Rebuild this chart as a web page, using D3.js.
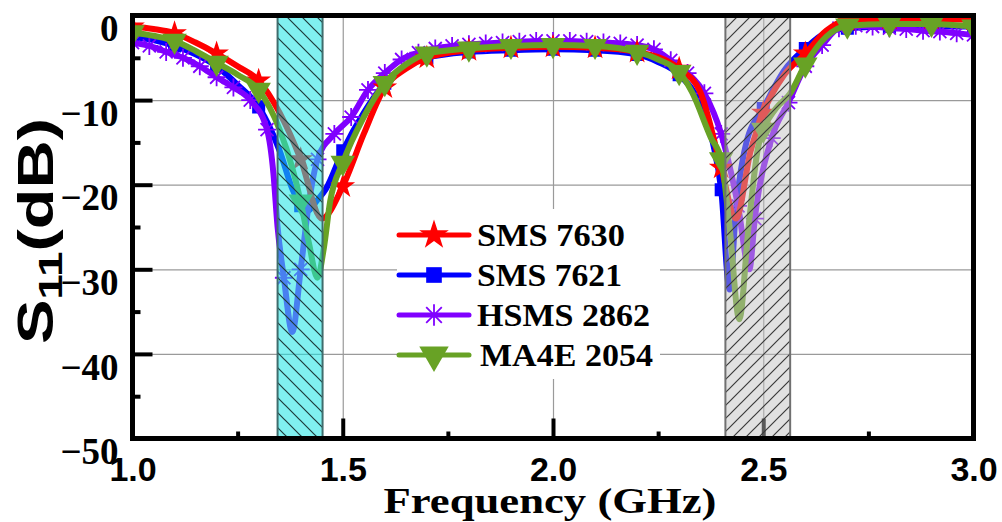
<!DOCTYPE html>
<html>
<head>
<meta charset="utf-8">
<script src="https://cdn.jsdelivr.net/npm/d3@7/dist/d3.min.js"></script>
<style>
  body { margin: 0; background: #fff; }
  .serif { font-family: "Liberation Serif", "Times New Roman", Times, serif; font-weight: bold; }
  .sans { font-family: "Liberation Sans", Arial, Helvetica, sans-serif; font-weight: bold; }
</style>
</head>
<body>
<div id="chart"></div>
<script>
// ---- data ----
const sms7630F = [1.0,1.05,1.1,1.15,1.2,1.25,1.3,1.35,1.4,1.45,1.5,1.55,1.6,1.65,1.7,1.8,1.9,2.0,2.1,2.2,2.3,2.35,2.4,2.435,2.47,2.5,2.55,2.6,2.65,2.7,2.8,2.9,3.0]
const sms7630V = [-1.3,-1.6,-2.1,-3.2,-4.5,-6.0,-7.7,-11.5,-17,-24,-20.2,-14,-8.5,-6.3,-5,-4.1,-3.8,-3.7,-3.8,-4.3,-6.3,-9,-18,-24,-16,-11.5,-7,-4.5,-1.8,-0.6,-0.4,-0.4,-0.5]

const sms7621F = [1.0,1.05,1.1,1.15,1.2,1.25,1.3,1.35,1.38,1.4,1.41,1.44,1.46,1.5,1.55,1.6,1.65,1.7,1.8,1.9,2.0,2.1,2.2,2.25,2.3,2.35,2.38,2.4,2.42,2.435,2.46,2.5,2.55,2.6,2.65,2.7,2.8,2.9,3.0]
const sms7621V = [-2.5,-2.9,-3.6,-4.6,-6.0,-8.2,-10.8,-16,-20.5,-22.5,-23.3,-21.8,-20.5,-16,-11.5,-8,-6,-5,-4.3,-4.1,-4.0,-4.1,-4.6,-5.5,-7.0,-10.5,-15,-20.6,-32.4,-23,-15,-11,-6.5,-3.9,-2,-1.5,-1.3,-1.3,-1.3]

const hsms2862F = [1.00,1.04,1.08,1.12,1.16,1.20,1.24,1.28,1.32,1.335,1.345,1.36,1.38,1.40,1.42,1.44,1.48,1.52,1.56,1.60,1.64,1.68,1.72,1.76,1.80,1.84,1.88,1.92,1.96,2.00,2.04,2.08,2.12,2.16,2.20,2.24,2.28,2.32,2.36,2.40,2.44,2.467,2.48,2.52,2.56,2.60,2.64,2.68,2.72,2.76,2.80,2.84,2.88,2.92,2.96,3.00]
const hsms2862V = [-3.2,-3.6,-4.3,-5.0,-6.0,-7.3,-8.5,-10.0,-13.5,-18.6,-25,-31,-37.4,-30,-22,-17,-14,-12,-8.8,-6.8,-5.2,-4.4,-3.9,-3.6,-3.4,-3.3,-3.2,-3.1,-3.0,-3.0,-3.0,-3.1,-3.2,-3.3,-3.5,-4.0,-5.3,-6.8,-9.2,-14,-22.5,-30,-24,-14.5,-10.3,-6,-3.5,-1.5,-1.2,-1.3,-1.5,-1.6,-1.8,-1.9,-2.1,-2.3]

const ma4e2054F = [1.0,1.05,1.1,1.15,1.2,1.25,1.3,1.35,1.38,1.4,1.42,1.44,1.455,1.47,1.5,1.55,1.6,1.65,1.7,1.8,1.9,2.0,2.1,2.2,2.25,2.3,2.33,2.376,2.4,2.42,2.443,2.465,2.488,2.5,2.53,2.564,2.6,2.65,2.7,2.8,2.9,3.0]
const ma4e2054V = [-2.0,-2.4,-3.0,-4.2,-5.6,-7.0,-8.8,-13.5,-18,-22,-27,-31,-27.5,-22,-17.4,-12,-8,-5.8,-4.5,-3.9,-3.6,-3.5,-3.6,-4.3,-5.2,-6.7,-9,-14.5,-17,-25,-35.9,-25,-15.5,-13.5,-11,-9.2,-5.8,-2.5,-1.2,-1.0,-1.0,-1.3]

const bands = [[1.345, 1.452], [2.41, 2.564]]
const xTicks = [1.0, 1.5, 2.0, 2.5, 3.0]
const xMinor = [1.25, 1.75, 2.25, 2.75]
const yTicks = [0, -10, -20, -30, -40, -50]
const yMinor = [-5, -15, -25, -35, -45]
const legendNames = ["SMS 7630", "SMS 7621", "HSMS 2862", "MA4E 2054"]

// ---- setup ----
const W = 1002, H = 522
const pL = 132.5, pR = 973.5, pT = 15.5, pB = 438.5

const svg = d3.select("#chart").append("svg")
    .attr("width", W)
    .attr("height", H)
    .style("display", "block")
svg.append("rect").attr("width", W).attr("height", H).attr("fill", "#fff")

const x = d3.scaleLinear().domain([1, 3]).range([pL, pR])
const y = d3.scaleLinear().domain([-50, 0]).range([pB, pT])

const defs = svg.append("defs")
defs.append("clipPath").attr("id", "plotclip")
    .append("rect").attr("x", pL).attr("y", pT).attr("width", pR - pL).attr("height", pB - pT)

function hatch(id, size, back) {
    const p = defs.append("pattern").attr("id", id)
        .attr("patternUnits", "userSpaceOnUse")
        .attr("width", size).attr("height", size)
    if (back) {
        p.append("path")
            .attr("d", `M0,0 L${size},${size} M${-size / 2},${size / 2} L${size / 2},${size * 1.5} M${size / 2},${-size / 2} L${size * 1.5},${size / 2}`)
    } else {
        p.append("path")
            .attr("d", `M0,${size} L${size},0 M${-size / 2},${size / 2} L${size / 2},${-size / 2} M${size / 2},${size * 1.5} L${size * 1.5},${size / 2}`)
    }
    p.select("path").attr("stroke", back ? "#1c3a3a" : "#3a3a3a").attr("stroke-width", 1.2)
}
hatch("hatchCyan", 15, true)
hatch("hatchGray", 13, false)

// ---- grid ----
const grid = svg.append("g")
grid.append("g")
    .attr("transform", `translate(0,${pB})`)
    .call(d3.axisBottom(x).tickValues([1.5, 2.0, 2.5]).tickSize(-(pB - pT)).tickFormat(""))
    .call(g => g.select(".domain").remove())
    .call(g => g.selectAll("line").attr("stroke", "#9a9a9a").attr("stroke-width", 1.2))
grid.append("g")
    .attr("transform", `translate(${pL},0)`)
    .call(d3.axisLeft(y).tickValues([-10, -20, -30, -40]).tickSize(-(pR - pL)).tickFormat(""))
    .call(g => g.select(".domain").remove())
    .call(g => g.selectAll("line").attr("stroke", "#9a9a9a").attr("stroke-width", 1.2))

// ---- ticks (inward) ----
function ticks(axis, tr) {
    svg.append("g").attr("transform", tr).call(axis)
        .call(g => g.select(".domain").remove())
        .call(g => g.selectAll("line").attr("stroke", "#000").attr("stroke-width", 4))
}
ticks(d3.axisBottom(x).tickValues([1.5, 2.0, 2.5]).tickSize(-20).tickFormat(""), `translate(0,${pB})`)
ticks(d3.axisBottom(x).tickValues(xMinor).tickSize(-7).tickFormat(""), `translate(0,${pB})`)
ticks(d3.axisLeft(y).tickValues([-10, -20, -30, -40]).tickSize(-20).tickFormat(""), `translate(${pL},0)`)
ticks(d3.axisLeft(y).tickValues(yMinor).tickSize(-8).tickFormat(""), `translate(${pL},0)`)

// ---- series ----
const series = [
    { name: "SMS 7621", f: sms7621F, v: sms7621V, color: "#0000ff", mark: "square", step: 0.1 },
    { name: "HSMS 2862", f: hsms2862F, v: hsms2862V, color: "#8000ff", mark: "asterisk", step: 0.04 },
    { name: "SMS 7630", f: sms7630F, v: sms7630V, color: "#ff0000", mark: "star", step: 0.1 },
    { name: "MA4E 2054", f: ma4e2054F, v: ma4e2054V, color: "#68a225", mark: "triangle", step: 0.1 }
]

function onGrid(f, step) {
    const k = f / step
    return Math.abs(k - Math.round(k)) < 1e-6
}

function drawMarker(g, kind, color, big) {
    const k = big ? 1.2 : 1
    if (kind === "asterisk") {
        const r = 9 * k, d = 6.5 * k
        g.append("path")
            .attr("d", `M0,${-r}V${r}M${-r},0H${r}M${-d},${-d}L${d},${d}M${d},${-d}L${-d},${d}`)
            .attr("stroke", color).attr("stroke-width", 1.8).attr("fill", "none")
    } else if (kind === "star") {
        g.append("path").attr("d", d3.symbol(d3.symbolStar, 190 * k * k)()).attr("fill", color)
    } else if (kind === "square") {
        g.append("path").attr("d", d3.symbol(d3.symbolSquare, 170 * k * k)()).attr("fill", color)
    } else {
        g.append("path").attr("d", d3.symbol(d3.symbolTriangle, 260 * k * k)())
            .attr("transform", "rotate(180)").attr("fill", color)
    }
}

const line = d3.line()
    .x(d => x(d[0]))
    .y(d => y(d[1]))
    .curve(d3.curveMonotoneX)

const plot = svg.append("g").attr("clip-path", "url(#plotclip)")
for (const s of series) {
    const pts = s.f.map((f, i) => [f, s.v[i]])
    plot.append("path")
        .datum(pts)
        .attr("d", line)
        .attr("fill", "none")
        .attr("stroke", s.color)
        .attr("stroke-width", 6)
        .attr("stroke-linejoin", "round")
        .attr("stroke-linecap", "round")
    pts.filter(p => onGrid(p[0], s.step)).forEach(p => {
        const g = plot.append("g").attr("transform", `translate(${x(p[0])},${y(p[1])})`)
        drawMarker(g, s.mark, s.color)
    })
}

// ---- shaded bands on top of the curves ----
const bandStyle = [
    { fill: "rgb(29,228,228)", op: 0.56, pattern: "url(#hatchCyan)", edge: "#3f6d6d" },
    { fill: "rgb(191,191,191)", op: 0.47, pattern: "url(#hatchGray)", edge: "#707070" }
]
bands.forEach((b, i) => {
    const st = bandStyle[i]
    const bx = x(b[0]), bw = x(b[1]) - x(b[0])
    svg.append("rect").attr("x", bx).attr("y", pT).attr("width", bw).attr("height", pB - pT)
        .attr("fill", st.fill).attr("fill-opacity", st.op)
    svg.append("rect").attr("x", bx).attr("y", pT).attr("width", bw).attr("height", pB - pT)
        .attr("fill", st.pattern)
    svg.append("rect").attr("x", bx).attr("y", pT).attr("width", bw).attr("height", pB - pT)
        .attr("fill", "none").attr("stroke", st.edge).attr("stroke-width", 2)
})

// ---- frame ----
svg.append("rect")
    .attr("x", pL).attr("y", pT)
    .attr("width", pR - pL).attr("height", pB - pT)
    .attr("fill", "none").attr("stroke", "#000").attr("stroke-width", 5)

// ---- tick labels ----
svg.append("g")
    .attr("transform", `translate(0,${pB})`)
    .call(d3.axisBottom(x).tickValues(xTicks).tickSize(0).tickPadding(18).tickFormat(d3.format(".1f")))
    .call(g => g.select(".domain").remove())
    .call(g => g.attr("font-family", null).attr("font-size", null))
    .call(g => g.selectAll("text").attr("class", "sans").style("font-size", "34px").attr("fill", "#000"))

svg.append("g")
    .attr("transform", `translate(${pL},0)`)
    .call(d3.axisLeft(y).tickValues(yTicks).tickSize(0).tickPadding(14).tickFormat(d3.format("d")))
    .call(g => g.select(".domain").remove())
    .call(g => g.attr("font-family", null).attr("font-size", null))
    .call(g => g.selectAll("text").attr("class", "serif").attr("dy", "0.68em")
        .style("font-size", "37px").attr("fill", "#000"))

// ---- axis titles ----
svg.append("text")
    .attr("class", "serif")
    .attr("x", (pL + pR) / 2 - 3).attr("y", 513)
    .attr("text-anchor", "middle")
    .style("font-size", "35px")
    .attr("textLength", 333).attr("lengthAdjust", "spacingAndGlyphs")
    .text("Frequency (GHz)")

const yl = svg.append("text")
    .attr("class", "sans")
    .attr("transform", "translate(53,231) rotate(-90)")
    .attr("text-anchor", "middle")
    .style("font-size", "50px")
    .attr("textLength", 226).attr("lengthAdjust", "spacingAndGlyphs")
yl.append("tspan").text("S")
yl.append("tspan").style("font-size", "34px").attr("dy", 9).text("11")
yl.append("tspan").attr("dy", -9).text("(dB)")

// ---- legend ----
const legendOrder = ["SMS 7630", "SMS 7621", "HSMS 2862", "MA4E 2054"]
const legendLen = [148, 145, 173, 173]
const legend = svg.append("g")
legend.append("rect").attr("x", 397).attr("y", 209).attr("width", 263).attr("height", 170).attr("fill", "#fff")
legendOrder.forEach((nm, i) => {
    const s = series.find(d => d.name === nm)
    const ly = 235 + i * 40
    legend.append("line").attr("x1", 399).attr("x2", 469).attr("y1", ly).attr("y2", ly)
        .attr("stroke", s.color).attr("stroke-width", 5).attr("stroke-linecap", "round")
    const g = legend.append("g").attr("transform", `translate(434,${ly})`)
    drawMarker(g, s.mark, s.color, true)
    legend.append("text")
        .attr("class", "serif")
        .attr("x", i === 3 ? 480 : 477).attr("y", ly + 11)
        .style("font-size", "31px")
        .attr("textLength", legendLen[i]).attr("lengthAdjust", "spacingAndGlyphs")
        .text(legendNames[i])
})
</script>
</body>
</html>
